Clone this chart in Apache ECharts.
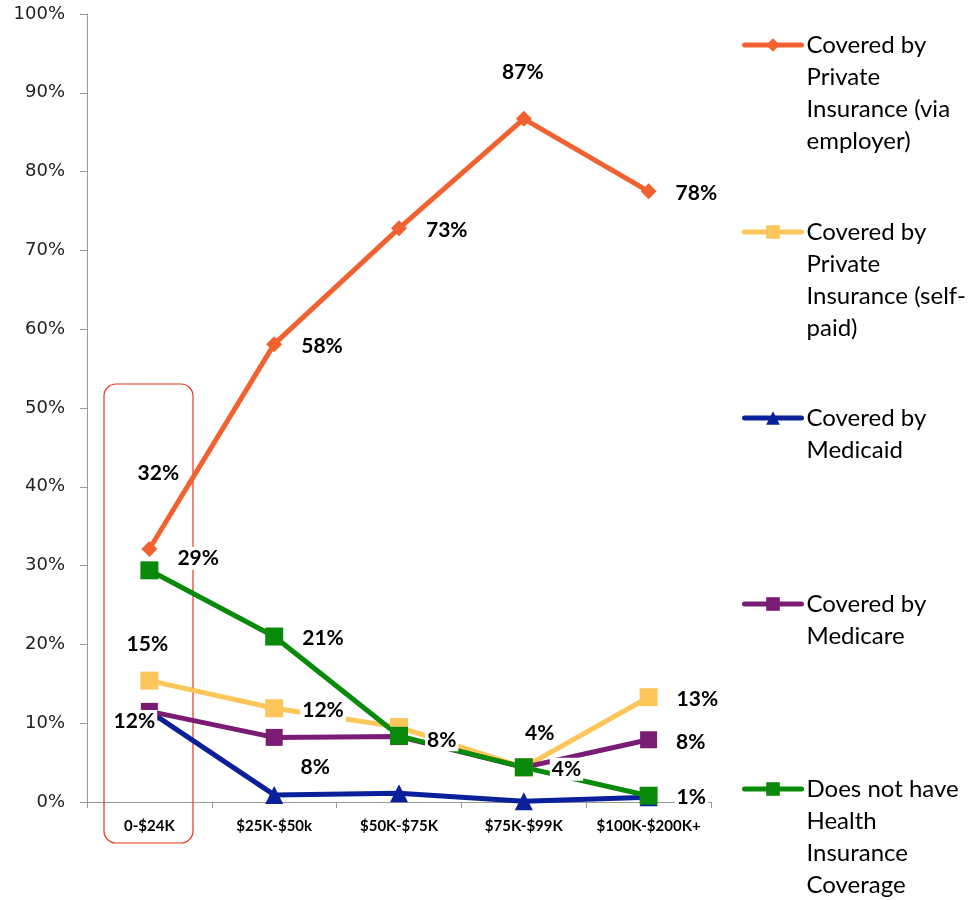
<!DOCTYPE html>
<html>
<head>
<meta charset="utf-8">
<script src="https://cdn.jsdelivr.net/npm/echarts@6/dist/echarts.min.js"></script>
<style>
  html, body { margin: 0; padding: 0; background: #fff; }
  #chart { width: 969px; height: 900px; }
</style>
</head>
<body>
<div id="chart"></div>
<script>
// income groups and coverage shares (%)
const incomeGroups = ['0-$24K', '$25K-$50k', '$50K-$75K', '$75K-$99K', '$100K-$200K+'];
const employerPlan = [32.1, 58.1, 72.8, 86.7, 77.5];
const selfPaid = [15.4, 11.9, 9.5, 4.4, 13.3];
const medicaid = [11.5, 0.9, 1.1, 0.1, 0.6];
const medicare = [11.5, 8.2, 8.3, 4.4, 7.9];
const uninsured = [29.4, 21.0, 8.4, 4.4, 0.8];

// where each value label sits: null = hidden, 'r' = right of point, [dx, dy] = offset from point
const employerSpots = [[9, -76], 'r', 'r', [-1, -47], 'r'];
const selfPaidSpots = [[-2, -36], 'r', null, [16, -34], 'r'];
const medicaidSpots = [null, null, null, null, null];
const medicareSpots = [[-15, 10], [41, 30], null, null, 'r'];
const uninsuredSpots = [['r', -12], 'r', ['r', 4], 'r', 'r'];

const chart = echarts.init(document.getElementById('chart'));

function buildData(values, spots) {
  return values.map((v, i) => {
    const s = spots[i];
    if (!s) return { value: v, label: { show: false } };
    if (s === 'r' || s[0] === 'r') {
      const dy = s === 'r' ? 2 : s[1];
      return { value: v, label: { show: true, position: 'right', distance: 17, offset: [0, dy] } };
    }
    return { value: v, label: { show: true, position: 'inside', offset: s } };
  });
}

const labelStyle = {
  formatter: p => Math.round(p.value) + '%',
  fontFamily: 'Lato',
  fontWeight: 'bold',
  fontSize: 21,
  color: '#000',
  backgroundColor: '#fff',
  padding: [1, 2]
};

function makeSeries(name, values, spots, color, symbol, size) {
  return {
    name: name,
    type: 'line',
    data: buildData(values, spots),
    symbol: symbol,
    symbolSize: size,
    lineStyle: { width: 5, color: color },
    itemStyle: { color: color },
    label: labelStyle,
    emphasis: { disabled: true },
    animation: false
  };
}

const seriesNames = [
  'Covered by Private Insurance (via employer)',
  'Covered by Private Insurance (self-paid)',
  'Covered by Medicaid',
  'Covered by Medicare',
  'Does not have Health Insurance Coverage'
];
const legendText = [
  'Covered by\nPrivate\nInsurance (via\nemployer)',
  'Covered by\nPrivate\nInsurance (self-\npaid)',
  'Covered by\nMedicaid',
  'Covered by\nMedicare',
  'Does not have\nHealth\nInsurance\nCoverage'
];
const legendIconY = [45, 232, 418, 604, 789];

// legend text is centred on its icon, so blank lines are put in front
// to bring the first line level with the icon
const legends = seriesNames.map((name, i) => {
  const n = legendText[i].split('\n').length;
  return {
    data: [name],
    left: 742,
    top: legendIconY[i] - 16 * (2 * n - 1),
    padding: 0,
    itemWidth: 57,
    itemHeight: 17,
    selectedMode: false,
    lineStyle: { width: 5, cap: 'round' },
    formatter: () => '\n'.repeat(n - 1) + legendText[i],
    textStyle: {
      fontFamily: 'Lato',
      fontSize: 24,
      color: '#000',
      lineHeight: 32
    }
  };
});

chart.setOption({
  backgroundColor: '#fff',
  animation: false,
  grid: { left: 87, right: 258, top: 14, bottom: 98, outerBoundsMode: 'none' },
  legend: legends,
  xAxis: {
    type: 'category',
    data: incomeGroups,
    boundaryGap: true,
    axisLine: { lineStyle: { color: '#999', width: 1 } },
    axisTick: { show: true, length: 6, lineStyle: { color: '#999' } },
    axisLabel: {
      interval: 0,
      hideOverlap: false,
      fontFamily: 'Lato',
      fontWeight: 'bold',
      fontSize: 15,
      color: '#000',
      margin: 17
    }
  },
  yAxis: {
    type: 'value',
    min: 0,
    max: 100,
    interval: 10,
    axisLine: { show: true, lineStyle: { color: '#999', width: 1 } },
    axisTick: { show: true, length: 7, lineStyle: { color: '#999' } },
    splitLine: { show: false },
    axisLabel: {
      formatter: '{value}%',
      fontFamily: 'DejaVu Sans',
      fontSize: 18,
      color: '#222',
      margin: 22
    }
  },
  graphic: [{
    type: 'rect',
    shape: { x: 104, y: 384, width: 89, height: 459, r: 12 },
    style: { fill: 'none', stroke: '#E8341C', lineWidth: 1.2 },
    z: 1
  }],
  series: [
    makeSeries(seriesNames[0], employerPlan, employerSpots, '#F26230', 'diamond', 16),
    makeSeries(seriesNames[1], selfPaid, selfPaidSpots, '#FDC65A', 'rect', 18),
    makeSeries(seriesNames[2], medicaid, medicaidSpots, '#0A1F9A', 'triangle', 18),
    makeSeries(seriesNames[3], medicare, medicareSpots, '#7A1B74', 'rect', 17),
    makeSeries(seriesNames[4], uninsured, uninsuredSpots, '#0A8A0A', 'rect', 18)
  ]
});
</script>
</body>
</html>
